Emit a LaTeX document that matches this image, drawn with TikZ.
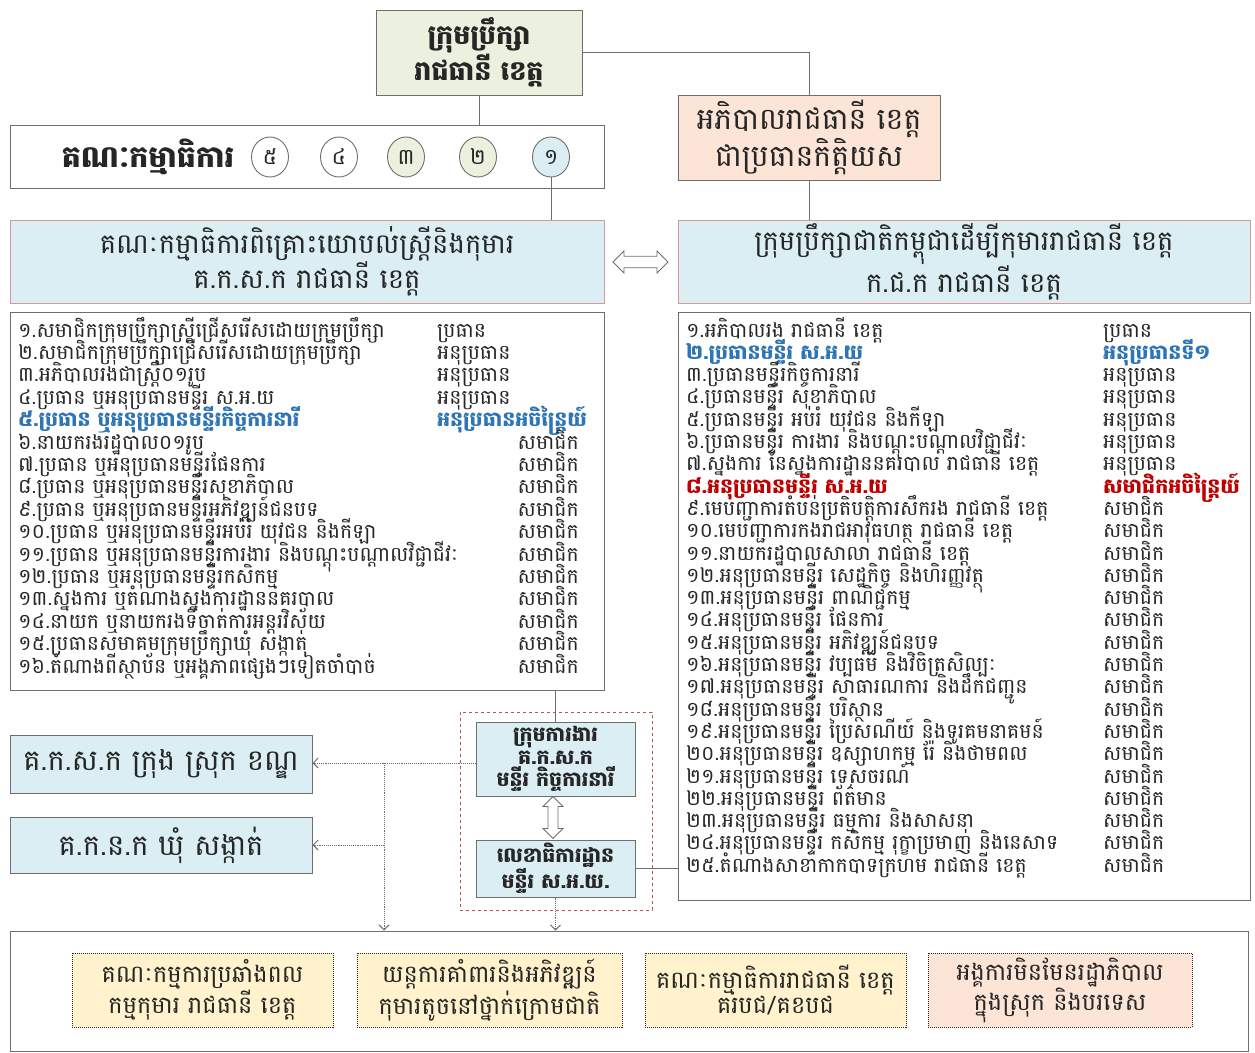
\documentclass[tikz,border=0pt]{standalone}
\usepackage{fontspec}
\newfontfamily\kh[Script=Khmer]{Battambang}
\usetikzlibrary{arrows.meta,shapes.arrows,shapes.geometric}
\definecolor{txt}{HTML}{262626}
\definecolor{bgray}{HTML}{6E6E6E}
\definecolor{lgreen}{HTML}{EBF1DE}
\definecolor{lpeach}{HTML}{FCE4D6}
\definecolor{lblue}{HTML}{DBEEF4}
\definecolor{hred}{HTML}{D99694}
\definecolor{dred}{HTML}{C0504D}
\definecolor{lyel}{HTML}{FFF2CC}
\definecolor{kblue}{HTML}{2E75B6}
\definecolor{kred}{HTML}{C00000}
\begin{document}
\begin{tikzpicture}[x=1pt,y=-1pt,
  every node/.style={text=txt},
  box/.style={draw=bgray, line width=1pt, align=center, inner sep=2pt, font=\kh},
  hdr/.style={box, draw=hred, fill=lblue, font=\kh\fontsize{27.5}{32}\selectfont},
  circ/.style={ellipse, draw=bgray, line width=0.9pt, minimum width=37pt, minimum height=40pt, inner sep=0pt, font=\kh\fontsize{22}{24}\selectfont},
  litem/.style={anchor=base west, inner sep=0pt, font=\kh\fontsize{20.5}{22}\selectfont},
  lrole/.style={inner sep=0pt, font=\kh\fontsize{20.5}{22}\selectfont},
  smallbox/.style={box, draw=bgray, fill=lblue, minimum width=302pt, font=\kh\fontsize{29}{32}\selectfont},
  wbox/.style={box, fill=lblue, minimum width=159pt, font=\kh\bfseries\fontsize{20.5}{22.5}\selectfont},
  dbox/.style={box, densely dotted, draw=txt, line width=1pt, minimum width=262pt, minimum height=74pt, font=\kh\fontsize{24}{24}\selectfont},
  dotarr/.style={densely dotted, draw=bgray, line width=0.9pt, -{Straight Barb[length=5pt,width=10pt]}},
  conn/.style={draw=bgray, line width=1pt},
  dbl/.style={double arrow, draw=bgray, fill=white, line width=0.9pt, inner sep=0pt, double arrow head extend=5pt}
]
\useasboundingbox (0,0) rectangle (1255,1052);

% top
\node[box, fill=lgreen, minimum width=206pt, minimum height=85pt, font=\kh\bfseries\fontsize{27}{33}\selectfont] (council) at (479,52.5) {ក្រុមប្រឹក្សា\\រាជធានី ខេត្ត};
\node[box, fill=lpeach, minimum width=262pt, minimum height=85pt, font=\kh\fontsize{30}{35}\selectfont] (gov) at (809,137.5) {អភិបាលរាជធានី ខេត្ត\\ជាប្រធានកិត្តិយស};

% committee row
\node[box, fill=white, minimum width=594pt, minimum height=63pt] (comm) at (307,156.5) {};
\node[inner sep=0pt, font=\kh\bfseries\fontsize{30}{32}\selectfont] (commlbl) at (148,157) {គណៈកម្មាធិការ};
\node[circ, fill=white] (c5) at (270,157) {៥};
\node[circ, fill=white] (c4) at (339,157) {៤};
\node[circ, fill=lgreen] (c3) at (406,157) {៣};
\node[circ, fill=lgreen] (c2) at (478,157) {២};
\node[circ, fill=lblue] (c1) at (551,157) {១};

% headers
\node[hdr, minimum width=594pt, minimum height=83pt] (lhead) at (307,261.5) {គណៈកម្មាធិការពិគ្រោះយោបល់ស្ត្រីនិងកុមារ\\គ.ក.ស.ក រាជធានី ខេត្ត};
\node[hdr, minimum width=572pt, minimum height=83pt] (rhead) at (964,261.5) {ក្រុមប្រឹក្សាជាតិកម្ពុជាដើម្បីកុមាររាជធានី ខេត្ត\\ក.ជ.ក រាជធានី ខេត្ត};
\node[dbl, minimum height=55pt, minimum width=22pt, inner ysep=5pt] (harr) at (640.5,262) {};

% list boxes
\node[box, fill=white, minimum width=594pt, minimum height=378pt] (llist) at (307,501) {};
\node[box, fill=white, minimum width=572pt, minimum height=588pt] (rlist) at (964,606) {};

\foreach \t [count=\i] in {
 {១.សមាជិកក្រុមប្រឹក្សាស្ត្រីជ្រើសរើសដោយក្រុមប្រឹក្សា},
 {២.សមាជិកក្រុមប្រឹក្សាជ្រើសរើសដោយក្រុមប្រឹក្សា},
 {៣.អភិបាលរងជាស្ត្រី០១រូប},
 {៤.ប្រធាន ឬអនុប្រធានមន្ទីរ ស.អ.យ},
 {\color{kblue}\bfseries ៥.ប្រធាន ឬអនុប្រធានមន្ទីរកិច្ចការនារី},
 {៦.នាយករងរដ្ឋបាល០១រូប},
 {៧.ប្រធាន ឬអនុប្រធានមន្ទីរផែនការ},
 {៨.ប្រធាន ឬអនុប្រធានមន្ទីរសុខាភិបាល},
 {៩.ប្រធាន ឬអនុប្រធានមន្ទីរអភិវឌ្ឍន៍ជនបទ},
 {១០.ប្រធាន ឬអនុប្រធានមន្ទីរអប់រំ យុវជន និងកីឡា},
 {១១.ប្រធាន ឬអនុប្រធានមន្ទីរការងារ និងបណ្តុះបណ្តាលវិជ្ជាជីវៈ},
 {១២.ប្រធាន ឬអនុប្រធានមន្ទីរកសិកម្ម},
 {១៣.ស្នងការ ឬតំណាងស្នងការដ្ឋាននគរបាល},
 {១៤.នាយក ឬនាយករងទីចាត់ការអន្តរវិស័យ},
 {១៥.ប្រធានសមាគមក្រុមប្រឹក្សាឃុំ សង្កាត់},
 {១៦.តំណាងពីស្ថាប័ន ឬអង្គភាពផ្សេងៗទៀតចាំបាច់}}
 \node[litem] (L\i) at (18,{337+(\i-1)*22.4}) {\t};

\foreach \r [count=\i] in {{ប្រធាន},{អនុប្រធាន},{អនុប្រធាន},{អនុប្រធាន},{\color{kblue}\bfseries អនុប្រធានអចិន្ត្រៃយ៍}}
 \node[lrole, anchor=base west] (LR\i) at (437,{337+(\i-1)*22.4}) {\r};
\foreach \i in {6,...,16}
 \node[lrole, anchor=base east] (LR\i) at (579,{337+(\i-1)*22.4}) {សមាជិក};

\foreach \t [count=\i] in {
 {១.អភិបាលរង រាជធានី ខេត្ត},
 {\color{kblue}\bfseries ២.ប្រធានមន្ទីរ ស.អ.យ},
 {៣.ប្រធានមន្ទីរកិច្ចការនារី},
 {៤.ប្រធានមន្ទីរ សុខាភិបាល},
 {៥.ប្រធានមន្ទីរ អប់រំ យុវជន និងកីឡា},
 {៦.ប្រធានមន្ទីរ ការងារ និងបណ្តុះបណ្តាលវិជ្ជាជីវៈ},
 {៧.ស្នងការ នៃស្នងការដ្ឋាននគរបាល រាជធានី ខេត្ត},
 {\color{kred}\bfseries ៨.អនុប្រធានមន្ទីរ ស.អ.យ},
 {៩.មេបញ្ជាការតំបន់ប្រតិបត្តិការសឹករង រាជធានី ខេត្ត},
 {១០.មេបញ្ជាការកងរាជអាវុធហត្ថ រាជធានី ខេត្ត},
 {១១.នាយករដ្ឋបាលសាលា រាជធានី ខេត្ត},
 {១២.អនុប្រធានមន្ទីរ សេដ្ឋកិច្ច និងហិរញ្ញវត្ថុ},
 {១៣.អនុប្រធានមន្ទីរ ពាណិជ្ជកម្ម},
 {១៤.អនុប្រធានមន្ទីរ ផែនការ},
 {១៥.អនុប្រធានមន្ទីរ អភិវឌ្ឍន៍ជនបទ},
 {១៦.អនុប្រធានមន្ទីរ វប្បធម៌ និងវិចិត្រសិល្បៈ},
 {១៧.អនុប្រធានមន្ទីរ សាធារណការ និងដឹកជញ្ជូន},
 {១៨.អនុប្រធានមន្ទីរ បរិស្ថាន},
 {១៩.អនុប្រធានមន្ទីរ ប្រៃសណីយ៍ និងទូរគមនាគមន៍},
 {២០.អនុប្រធានមន្ទីរ ឧស្សាហកម្ម រ៉ែ និងថាមពល},
 {២១.អនុប្រធានមន្ទីរ ទេសចរណ៍},
 {២២.អនុប្រធានមន្ទីរ ព័ត៌មាន},
 {២៣.អនុប្រធានមន្ទីរ ធម្មការ និងសាសនា},
 {២៤.អនុប្រធានមន្ទីរ កសិកម្ម រុក្ខាប្រមាញ់ និងនេសាទ},
 {២៥.តំណាងសាខាកាកបាទក្រហម រាជធានី ខេត្ត}}
 \node[litem] (R\i) at (686,{337+(\i-1)*22.3}) {\t};

\foreach \r [count=\i] in {{ប្រធាន},{\color{kblue}\bfseries អនុប្រធានទី១},{អនុប្រធាន},{អនុប្រធាន},{អនុប្រធាន},{អនុប្រធាន},{អនុប្រធាន},{\color{kred}\bfseries សមាជិកអចិន្ត្រៃយ៍}}
 \node[lrole, anchor=base west] (RR\i) at (1103,{337+(\i-1)*22.3}) {\r};
\foreach \i in {9,...,25}
 \node[lrole, anchor=base west] (RR\i) at (1103,{337+(\i-1)*22.3}) {សមាជិក};

% lower left boxes
\node[smallbox, minimum height=58pt] (small1) at (161,764) {គ.ក.ស.ក ក្រុង ស្រុក ខណ្ឌ};
\node[smallbox, minimum height=56pt] (small2) at (161,845) {គ.ក.ន.ក ឃុំ សង្កាត់};

% working group
\node[draw=dred, dashed, line width=1pt, minimum width=192pt, minimum height=198pt] (redbox) at (556,811) {};
\node[wbox, minimum height=74pt] (box1) at (555.5,759) {ក្រុមការងារ\\គ.ក.ស.ក\\មន្ទីរ កិច្ចការនារី};
\node[wbox, minimum height=57pt] (box2) at (555.5,868.5) {លេខាធិការដ្ឋាន\\មន្ទីរ ស.អ.យ.};
\node[dbl, rotate=90, minimum height=42pt, minimum width=20pt, inner ysep=4.5pt] (varr) at (553,817.5) {};

% bottom
\node[box, fill=white, minimum width=1238pt, minimum height=120pt] (bottom) at (629,991) {};
\node[dbox, fill=lyel, minimum width=261pt] (bA) at (202.5,990) {គណៈកម្មការប្រឆាំងពល\\កម្មកុមារ រាជធានី ខេត្ត};
\node[dbox, fill=lyel, minimum width=265pt] (bB) at (489.5,990) {យន្តការគាំពារនិងអភិវឌ្ឍន៍\\កុមារតូចនៅថ្នាក់ក្រោមជាតិ};
\node[dbox, fill=lyel, minimum width=261pt] (bC) at (775.5,990) {គណៈកម្មាធិការរាជធានី ខេត្ត\\គរបជ/គខបជ};
\node[dbox, fill=lpeach, minimum width=264pt] (bD) at (1060,990) {អង្គការមិនមែនរដ្ឋាភិបាល\\ក្នុងស្រុក និងបរទេស};

% connectors
\draw[conn] (council.east) -| (gov.north);
\draw[conn] (council.south) -- (council.south |- comm.north);
\draw[conn] (c1.south) -- (c1.south |- lhead.north);
\draw[conn] (gov.south) -- (gov.south |- rhead.north);
\draw[conn] (box1.north |- llist.south) -- (box1.north);
\draw[conn] (box2.east) -- (box2.east -| rlist.west);

\coordinate (j1) at (384,763);
\draw[dotarr] (box1.west |- j1) -- (j1 -| small1.east);
\draw[dotarr] (j1) -- (j1 |- bottom.north);
\draw[dotarr] (j1 |- small2.east) -- (small2.east);
\draw[dotarr] (box2.south) -- (box2.south |- bottom.north);
\end{tikzpicture}
\end{document}
